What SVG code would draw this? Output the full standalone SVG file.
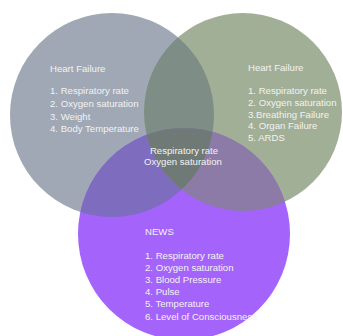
<svg xmlns="http://www.w3.org/2000/svg" width="343" height="336" viewBox="0 0 343 336">
<style>
text{font-family:"Liberation Sans",Arial,sans-serif;font-size:9.6px;fill:#f2f2f2}
</style>
<defs>
<clipPath id="cG"><circle cx="112" cy="115" r="102"/></clipPath>
<clipPath id="cR"><circle cx="243" cy="112" r="99"/></clipPath>
<clipPath id="cP"><circle cx="184" cy="234" r="106"/></clipPath>
</defs>
<rect width="343" height="336" fill="#ffffff"/>
<g id="circles">
<circle cx="112" cy="115" r="102" fill="#a0a8b5"/>
<circle cx="243" cy="112" r="99" fill="#a2af97"/>
<circle cx="184" cy="234" r="106" fill="#a463fa"/>
</g>
<g id="overlaps">
<circle cx="243" cy="112" r="99" fill="#7e8d86" clip-path="url(#cG)"/>
<circle cx="184" cy="234" r="106" fill="#7e6cbf" clip-path="url(#cG)"/>
<circle cx="184" cy="234" r="106" fill="#8b7ba6" clip-path="url(#cR)"/>
<g clip-path="url(#cG)"><circle cx="184" cy="234" r="106" fill="#6f7a77" clip-path="url(#cR)"/></g>
</g>
<g id="heart-failure-left">
<text x="50" y="71.5">Heart Failure</text>
<text x="50" y="94">1. Respiratory rate</text>
<text x="50" y="107">2. Oxygen saturation</text>
<text x="50" y="119.5">3. Weight</text>
<text x="50" y="131.5">4. Body Temperature</text>
</g>
<g id="heart-failure-right">
<text x="248" y="70.5">Heart Failure</text>
<text x="248" y="94">1. Respiratory rate</text>
<text x="248" y="105.5">2. Oxygen saturation</text>
<text x="248" y="117.5">3.Breathing Failure</text>
<text x="248" y="129">4. Organ Failure</text>
<text x="248" y="140.5">5. ARDS</text>
</g>
<g id="common">
<text x="184" y="153.5" text-anchor="middle">Respiratory rate</text>
<text x="183" y="165" text-anchor="middle">Oxygen saturation</text>
</g>
<g id="news">
<text x="145" y="234.5">NEWS</text>
<text x="145" y="258.5">1. Respiratory rate</text>
<text x="145" y="270.5">2. Oxygen saturation</text>
<text x="145" y="282.5">3. Blood Pressure</text>
<text x="145" y="294.5">4. Pulse</text>
<text x="145" y="306.5">5. Temperature</text>
<text x="145" y="319.5">6. Level of Consciousness</text>
</g>
</svg>
